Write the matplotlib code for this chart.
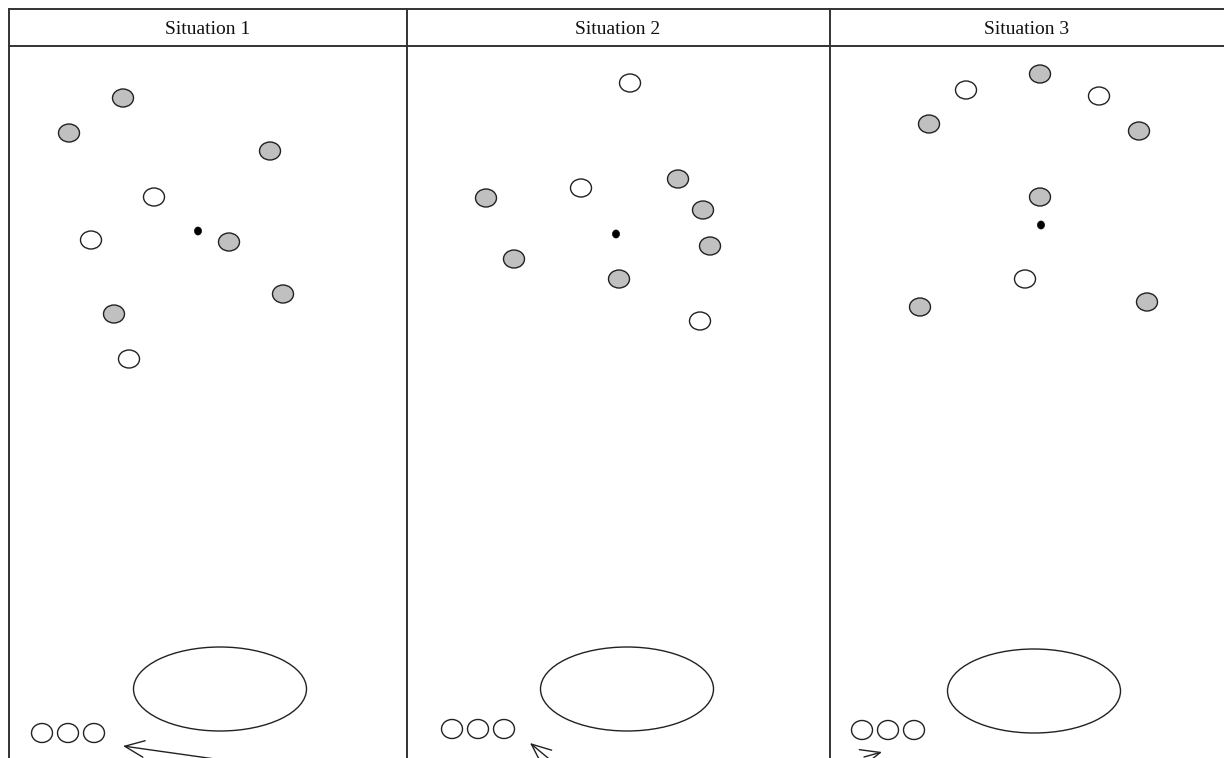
import matplotlib
matplotlib.use("Agg")
import matplotlib.pyplot as plt
from matplotlib.patches import Ellipse

# Panel titles
titles = ["Situation 1", "Situation 2", "Situation 3"]
title_x = [208, 618, 1027]

# Filled (gray) players per situation (x, y in pixel space)
gray_1 = [(123, 98), (69, 133), (270, 151), (229, 242), (283, 294), (114, 314)]
gray_2 = [(486, 198), (678, 179), (703, 210), (710, 246), (514, 259), (619, 279)]
gray_3 = [(1040, 74), (929, 124), (1139, 131), (1040, 197), (920, 307), (1147, 302)]

# Open (white) players
white_1 = [(154, 197), (91, 240), (129, 359)]
white_2 = [(630, 83), (581, 188), (700, 321)]
white_3 = [(966, 90), (1099, 96), (1025, 279)]

# Ball (black dot)
ball = [(198, 231), (616, 234), (1041, 225)]

# Big ellipses (goal area) centres
big_ell = [(220, 689), (627, 689), (1034, 691)]

# Small bench circles
bench = [[(42, 733), (68, 733), (94, 733)],
         [(452, 729), (478, 729), (504, 729)],
         [(862, 730), (888, 730), (914, 730)]]

# Arrows (start -> tip)
arrows = [((215, 759), (123, 746)),
          ((560, 768), (530, 743)),
          ((864, 757), (882, 752))]

W, H = 1224, 758
fig = plt.figure(figsize=(W / 100, H / 100), dpi=100)
ax = fig.add_axes([0, 0, 1, 1])
ax.set_xlim(0, W)
ax.set_ylim(H, 0)
ax.axis("off")

lc = "#333333"
lw = 1.4
# table lines
ax.plot([9, W], [9, 9], color=lc, lw=lw)
ax.plot([9, W], [46, 46], color=lc, lw=lw)
for x in [9, 407, 830]:
    ax.plot([x, x], [9, H], color=lc, lw=lw)

for t, x in zip(titles, title_x):
    ax.text(x, 29, t, ha="center", va="center", fontsize=14,
            family="Liberation Serif", color="#111111")

def circ(xy, fc, w=21, h=18):
    ax.add_patch(Ellipse(xy, w, h, facecolor=fc, edgecolor="#222222", lw=1.0))

for group in (gray_1, gray_2, gray_3):
    for p in group:
        circ(p, "#c0c0c0")
for group in (white_1, white_2, white_3):
    for p in group:
        circ(p, "white")
for p in ball:
    ax.add_patch(Ellipse(p, 7, 8, facecolor="black", edgecolor="black", lw=0.5))
for p in big_ell:
    ax.add_patch(Ellipse(p, 173, 84, facecolor="none", edgecolor="#222222", lw=1.0))
for g in bench:
    for p in g:
        circ(p, "white", 21, 19)
for s, e in arrows:
    ax.annotate("", xy=e, xytext=s,
                arrowprops=dict(arrowstyle="->,head_length=0.7,head_width=0.3",
                                color="#222222", lw=1.0,
                                mutation_scale=20, shrinkA=0, shrinkB=0))

fig.savefig("out.png", dpi=100)
